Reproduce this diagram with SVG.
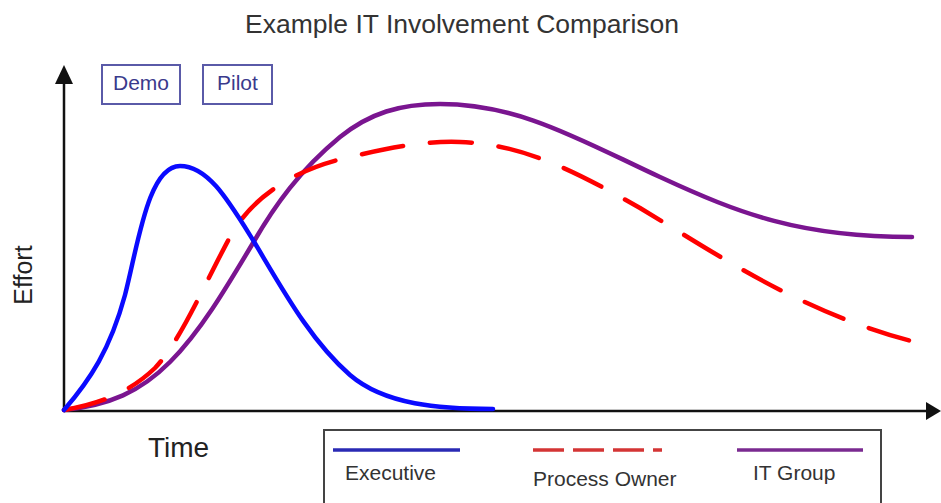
<svg xmlns="http://www.w3.org/2000/svg" width="941" height="503" viewBox="0 0 941 503">
<style>
.t{font-family:"Liberation Sans",Arial,sans-serif;}
.axis{stroke:#111;stroke-width:2.5;fill:none;}
.curve{fill:none;stroke-width:4.5;stroke-linecap:round;stroke-linejoin:round;}
.tag{fill:#fff;stroke:#5a5aa8;stroke-width:2;}
.tagtxt{font-size:21px;fill:#3a3a8c;}
.leg{font-size:21px;fill:#333;}
</style>
<rect width="941" height="503" fill="#fff"/>
<text class="t" x="245" y="33" font-size="26.5" fill="#333">Example IT Involvement Comparison</text>
<text class="t" x="32" y="275" font-size="25" fill="#222" text-anchor="middle" transform="rotate(-90 32 275)">Effort</text>
<text class="t" x="148" y="457" font-size="28" fill="#222">Time</text>
<g id="axes">
<line class="axis" x1="64" y1="411" x2="64" y2="80"/>
<polygon points="64,65 55,84 73,84" fill="#111"/>
<line class="axis" x1="64" y1="411" x2="928" y2="411"/>
<polygon points="941,411 926,402 926,420" fill="#111"/>
</g>
<g id="demo">
<rect class="tag" x="102" y="65" width="78" height="39"/>
<text class="t tagtxt" x="113" y="90">Demo</text>
</g>
<g id="pilot">
<rect class="tag" x="203" y="65" width="69" height="39"/>
<text class="t tagtxt" x="217" y="90">Pilot</text>
</g>
<g id="connectors">
<path id="it-group" class="curve" stroke="#7a1590" d="M64,410 C110,405 140,392 170,362 C200,332 225,290 253,243 C275,205 300,170 340,137 C370,113 400,104 440,104 C520,104 580,140 660,177 C740,214 800,237 912,237"/>
<path id="process-owner" class="curve" stroke="#ff0000" stroke-linecap="butt" stroke-dasharray="42 27" d="M64,410 C100,404 130,392 155,368 C180,342 205,283 230,237 C250,200 290,170 350,157 C400,145 430,141 460,142 C520,144 570,168 640,208 C720,256 800,312 915,342"/>
<path id="executive" class="curve" stroke="#0a0aff" d="M64,410 C90,380 110,350 125,295 C138,245 148,166 180,166 C208,166 228,200 253,240 C283,290 310,340 350,375 C385,405 440,409 493,409"/>
</g>
<g id="legend">
<rect x="324" y="430" width="557" height="90" fill="#fff" stroke="#444" stroke-width="2"/>
<line x1="333" y1="450" x2="460" y2="450" stroke="#2a2ab4" stroke-width="3.5"/>
<line x1="533" y1="450" x2="662" y2="450" stroke="#d43434" stroke-width="3.5" stroke-dasharray="31 9"/>
<line x1="737" y1="450" x2="863" y2="450" stroke="#7a2a90" stroke-width="3.5"/>
<text class="t leg" x="345" y="480">Executive</text>
<text class="t leg" x="533" y="486" font-size="21.5">Process Owner</text>
<text class="t leg" x="753" y="480">IT Group</text>
</g>
</svg>
